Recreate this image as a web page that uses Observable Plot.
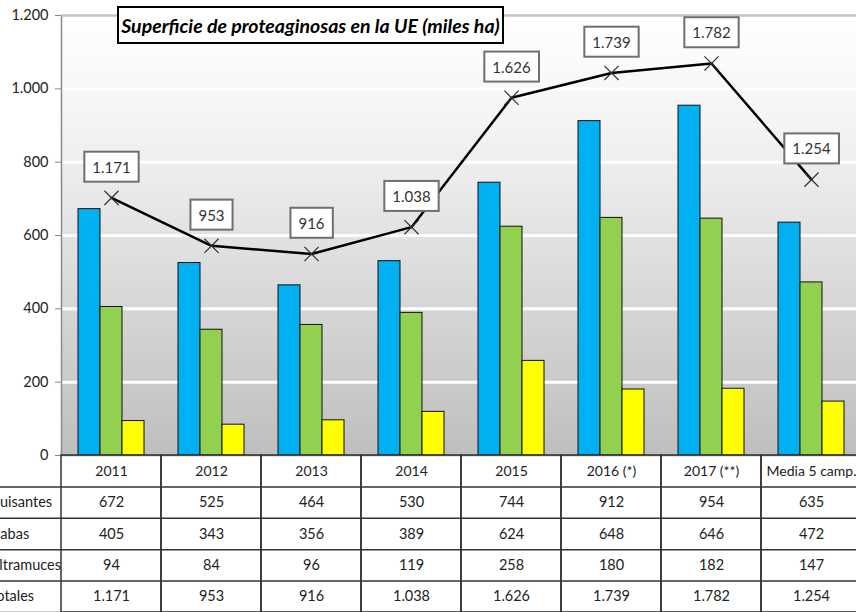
<!DOCTYPE html>
<html><head><meta charset="utf-8">
<script src="https://cdn.jsdelivr.net/npm/d3@7"></script>
<script src="https://cdn.jsdelivr.net/npm/@observablehq/plot@0.6"></script>
<style>
html,body{margin:0;padding:0;background:#fff;overflow:hidden;}
#wrap{position:relative;width:856px;height:612px;overflow:hidden;font-family:Lato,sans-serif;}
#wrap svg{position:absolute;left:0;top:0;max-width:none;}
#title{position:absolute;z-index:5;left:117px;top:6px;width:383px;height:34px;border:2px solid #000;background:#fff;font-style:italic;font-weight:bold;font-size:19.5px;font-family:Lato,sans-serif;display:flex;align-items:center;justify-content:center;color:#000;white-space:nowrap;}
</style></head><body>
<div id="wrap"><div id="title">Superficie de proteaginosas en la UE (miles ha)</div></div>
<script>
const categories = ["2011","2012","2013","2014","2015","2016 (*)","2017 (**)","Media 5 camp."];
const guisantes = [672,525,464,530,744,912,954,635];
const habas = [405,343,356,389,624,648,646,472];
const altramuces = [94,84,96,119,258,180,182,147];
const totales = [1171,953,916,1038,1626,1739,1782,1254];
const rowLabels = ["Guisantes","Habas","Altramuces","Totales"];
const yTicks = [0,200,400,600,800,1000,1200];
const secondaryMax = 2000; // hidden secondary axis (0–2000) used by the Totales line

const fmt = d3.formatLocale({decimal:",", thousands:".", grouping:[3], currency:["","€"]}).format(",");
const data = categories.map((c,i)=>({cat:c, g:guisantes[i], h:habas[i], a:altramuces[i], t:totales[i]}));
const lineY = d => d.t * yTicks[yTicks.length-1] / secondaryMax;

const wrap = document.getElementById("wrap");
const ns = "http://www.w3.org/2000/svg";

const chart = Plot.plot({
  width: 862, height: 612,
  marginLeft: 61, marginRight: 1, marginTop: 15, marginBottom: 157,
  x: {type: "band", domain: categories, padding: 0, axis: null},
  y: {domain: [0, 1200], axis: null},
  style: {background: "transparent", fontFamily: "Lato, sans-serif", fontSize: "14px", color: "#222", maxWidth: "none"},
  marks: [
    Plot.frame({fill: "url(#bggrad)", stroke: "none"}),
    Plot.ruleY(yTicks.filter(v => v > 0 && v < 1200), {stroke: "#ffffff", strokeWidth: 3}),
    Plot.barY(data, {x: "cat", y: "g", fill: "#00b0f0", stroke: "#111", strokeWidth: 1, insetLeft: 17, insetRight: 61}),
    Plot.barY(data, {x: "cat", y: "h", fill: "#92d050", stroke: "#111", strokeWidth: 1, insetLeft: 39, insetRight: 39}),
    Plot.barY(data, {x: "cat", y: "a", fill: "#ffff00", stroke: "#111", strokeWidth: 1, insetLeft: 61, insetRight: 17}),
    Plot.frame({stroke: "#8a8a8a", strokeWidth: 1.5, fill: "none"}),
    Plot.ruleY([1200], {stroke: "#c4c4c4", strokeWidth: 2}),
    Plot.line(data, {x: "cat", y: lineY, stroke: "#000", strokeWidth: 2.5}),
    Plot.dot(data, {x: "cat", y: lineY, symbol: "times", r: 6.5, stroke: "#333", strokeWidth: 1.2}),
    Plot.text(data, {x: "cat", y: lineY, text: d => fmt(d.t), dy: -30, fontSize: 15, fill: "#333", ariaDescription: "totlabels"}),
    Plot.axisY({ticks: yTicks, tickFormat: fmt, tickSize: 6, tickPadding: 7, stroke: "#888", fill: "#222", fontSize: 14.5, label: null})
  ]
});

const cells = [];
categories.forEach((c, i) => {
  cells.push({cat: c, row: 0, text: c});
  [guisantes, habas, altramuces, totales].forEach((s, j) => cells.push({cat: c, row: j + 1, text: fmt(s[i])}));
});
const nRows = rowLabels.length + 1;

const table = Plot.plot({
  width: 862, height: 612,
  marginLeft: 0, marginRight: 0, marginTop: 455, marginBottom: 0,
  x: {type: "band", domain: categories, range: [61, 861], padding: 0, axis: null},
  y: {type: "linear", domain: [0, nRows], range: [455, 612], axis: null},
  style: {background: "transparent", fontFamily: "Lato, sans-serif", fontSize: "14px", color: "#222", maxWidth: "none"},
  marks: [
    Plot.ruleY(d3.range(1, nRows + 1), {stroke: "#333", strokeWidth: 1.5}),
    Plot.barY(categories, {x: d => d, y1: 0, y2: nRows, fill: "none", stroke: "#333", strokeWidth: 1.5}),
    Plot.text(cells.filter(d => d.row === 0), {x: "cat", y: d => d.row + 0.5, text: "text", fill: "#222", fontSize: 14}),
    Plot.text(cells.filter(d => d.row > 0), {x: "cat", y: d => d.row + 0.5, text: "text", fill: "#222", fontSize: 14.5}),
    Plot.text(rowLabels, {y: (d, i) => i + 1.5, text: d => d, frameAnchor: "left", textAnchor: "start", dx: -11, fill: "#222", fontSize: 14.5})
  ]
});

wrap.insertBefore(table, wrap.firstChild);
wrap.insertBefore(chart, wrap.firstChild);

// gradient background of the plot area
const defs = document.createElementNS(ns, "defs");
defs.innerHTML = '<linearGradient id="bggrad" x1="0" y1="0" x2="0" y2="1"><stop offset="0" stop-color="#ffffff"/><stop offset="0.25" stop-color="#f4f4f4"/><stop offset="1" stop-color="#bebebe"/></linearGradient>';
chart.insertBefore(defs, chart.firstChild);

// boxes around the total labels
chart.querySelectorAll('g[aria-description="totlabels"] text').forEach(t => {
  const b = t.getBBox();
  const r = document.createElementNS(ns, "rect");
  r.setAttribute("x", b.x - 8);
  r.setAttribute("y", b.y - 6);
  r.setAttribute("width", b.width + 16);
  r.setAttribute("height", b.height + 12);
  r.setAttribute("fill", "#fff");
  r.setAttribute("stroke", "#6f6f6f");
  r.setAttribute("stroke-width", 2);
  if (t.getAttribute("transform")) r.setAttribute("transform", t.getAttribute("transform"));
  t.parentNode.insertBefore(r, t);
});
</script>
</body></html>
